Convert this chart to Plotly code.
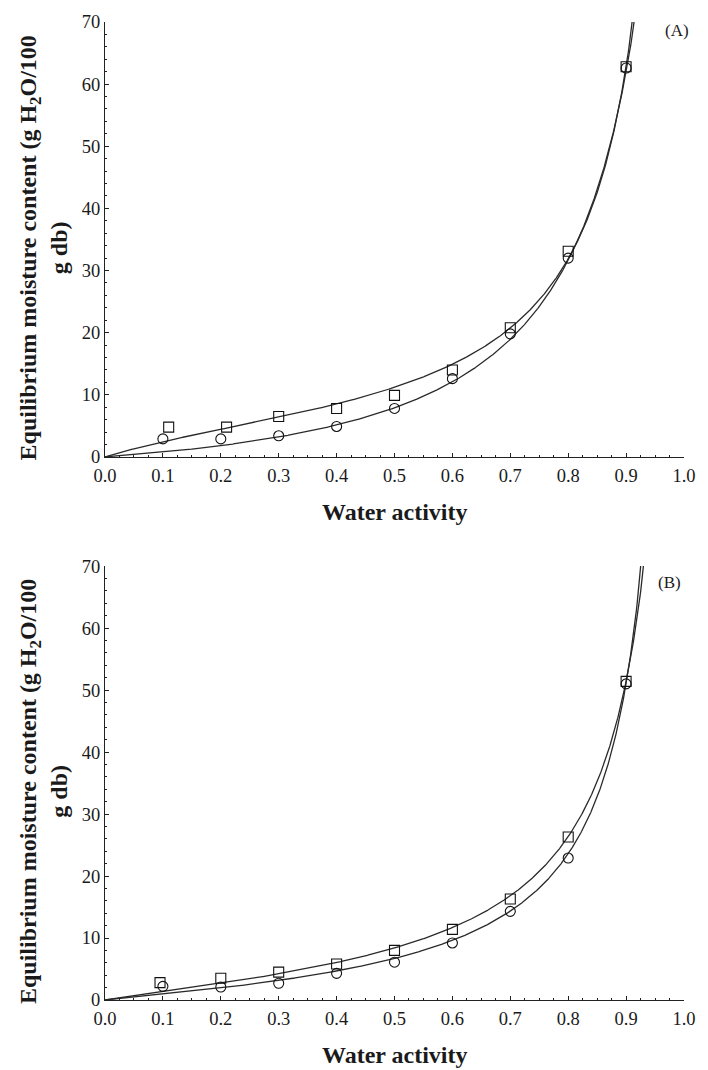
import numpy as np
import plotly.graph_objects as go
from plotly.subplots import make_subplots

# ---- measured sorption data (water activity, g H2O / 100 g db) ----
aw_a_sq = [0.11, 0.21, 0.30, 0.40, 0.50, 0.60, 0.70, 0.80, 0.90]
m_a_sq = [4.8, 4.8, 6.5, 7.8, 9.9, 14.0, 20.8, 33.1, 62.8]
aw_a_ci = [0.10, 0.20, 0.30, 0.40, 0.50, 0.60, 0.70, 0.80, 0.90]
m_a_ci = [2.9, 2.9, 3.4, 4.9, 7.8, 12.6, 19.8, 32.0, 62.6]

aw_b_sq = [0.095, 0.20, 0.30, 0.40, 0.50, 0.60, 0.70, 0.80, 0.90]
m_b_sq = [2.8, 3.5, 4.5, 5.8, 8.0, 11.4, 16.3, 26.3, 51.4]
aw_b_ci = [0.10, 0.20, 0.30, 0.40, 0.50, 0.60, 0.70, 0.80, 0.90]
m_b_ci = [2.2, 2.1, 2.7, 4.3, 6.1, 9.2, 14.3, 22.9, 51.0]

# ---- GAB model parameters (Mm, C, K) for the fitted curves ----
gab_a_sq = [7.05, 4.148, 0.99]
gab_a_ci = [11.40, 0.632, 0.95]
gab_b_sq = [6.46, 2.047, 0.98]
gab_b_ci = [5.46, 1.59, 1.00]

x_ticks = [0.0, 0.1, 0.2, 0.3, 0.4, 0.5, 0.6, 0.7, 0.8, 0.9, 1.0]
y_ticks = [0, 10, 20, 30, 40, 50, 60, 70]
panel_labels = ["(A)", "(B)"]
x_title = "Water activity"
y_title = "Equilibrium moisture content (g H<sub>2</sub>O/100<br>g db)"


def gab_curve(params):
    mm, c, k = params
    aw = np.linspace(0.0, 0.995, 1200)
    b = k * aw
    den = (1 - b) * (1 - b + c * b)
    keep = den > 0
    aw, b, den = aw[keep], b[keep], den[keep]
    m = mm * c * b / den
    # stop shortly after the curve leaves the plotted range
    last = np.argmax(m > 90) if np.any(m > 90) else len(m) - 1
    return aw[: last + 1], m[: last + 1]


SERIF = "Liberation Serif, Times New Roman, serif"
INK = "#1a1a1a"

fig = make_subplots(rows=2, cols=1, vertical_spacing=0.1117)

panels = [
    (1, aw_a_sq, m_a_sq, aw_a_ci, m_a_ci, gab_a_sq, gab_a_ci),
    (2, aw_b_sq, m_b_sq, aw_b_ci, m_b_ci, gab_b_sq, gab_b_ci),
]

for row, xs, ys, xc, yc, p_sq, p_ci in panels:
    for params in (p_sq, p_ci):
        cx, cy = gab_curve(params)
        fig.add_trace(
            go.Scatter(x=cx, y=cy, mode="lines",
                       line=dict(color="#2a2a2a", width=1.3),
                       showlegend=False, hoverinfo="skip"),
            row=row, col=1,
        )
    fig.add_trace(
        go.Scatter(x=xc, y=yc, mode="markers",
                   marker=dict(symbol="circle-open", size=10,
                               color="#111111", line=dict(width=1.1)),
                   showlegend=False),
        row=row, col=1,
    )
    fig.add_trace(
        go.Scatter(x=xs, y=ys, mode="markers",
                   marker=dict(symbol="square-open", size=10,
                               color="#111111", line=dict(width=1.1)),
                   showlegend=False),
        row=row, col=1,
    )

axis_common = dict(
    showline=True, linecolor="#222222", linewidth=1.3,
    ticks="inside", tickcolor="#222222", ticklen=4, tickwidth=1,
    showgrid=False, zeroline=False, mirror=False,
    tickfont=dict(family=SERIF, size=18.5, color=INK),
)

for row in (1, 2):
    fig.update_xaxes(
        range=[0, 1], tickvals=x_ticks,
        ticktext=[f"{v:.1f}" for v in x_ticks],
        ticklabelstandoff=2,
        minor=dict(dtick=0.025, ticks="inside", ticklen=2,
                   tickcolor="#222222", showgrid=False),
        row=row, col=1, **axis_common,
    )
    fig.update_yaxes(
        range=[0, 70], tickvals=y_ticks,
        minor=dict(dtick=2, ticks="inside", ticklen=2,
                   tickcolor="#222222", showgrid=False),
        row=row, col=1, **axis_common,
    )

annotations = []
for i, (xr, yr) in enumerate([("x", "y"), ("x2", "y2")]):
    annotations.append(dict(
        text=x_title, xref=f"{xr} domain", yref=f"{yr} domain",
        x=0.5, y=0, yshift=-55, xanchor="center", yanchor="middle",
        showarrow=False,
        font=dict(family=SERIF, size=24, color=INK, weight="bold"),
    ))
    annotations.append(dict(
        text=y_title, xref=f"{xr} domain", yref=f"{yr} domain",
        x=0, y=0.5, xshift=-62, yshift=-9, xanchor="center", yanchor="middle",
        textangle=-90, showarrow=False, align="center",
        font=dict(family=SERIF, size=24, color=INK, weight="bold"),
    ))
    annotations.append(dict(
        text=panel_labels[i], xref=f"{xr} domain", yref=f"{yr} domain",
        x=0.988 if i == 0 else 0.975, y=0.98 if i == 0 else 0.963,
        xanchor="center", yanchor="middle",
        showarrow=False,
        font=dict(family=SERIF, size=17, color=INK),
    ))

fig.update_layout(
    width=708, height=1070,
    margin=dict(l=105, r=16, t=15, b=70),
    paper_bgcolor="white", plot_bgcolor="white",
    annotations=annotations,
)
fig.layout.yaxis.domain = [0.5553, 1.0]
fig.layout.yaxis2.domain = [0.0, 0.4437]

fig.write_html("out.html")
